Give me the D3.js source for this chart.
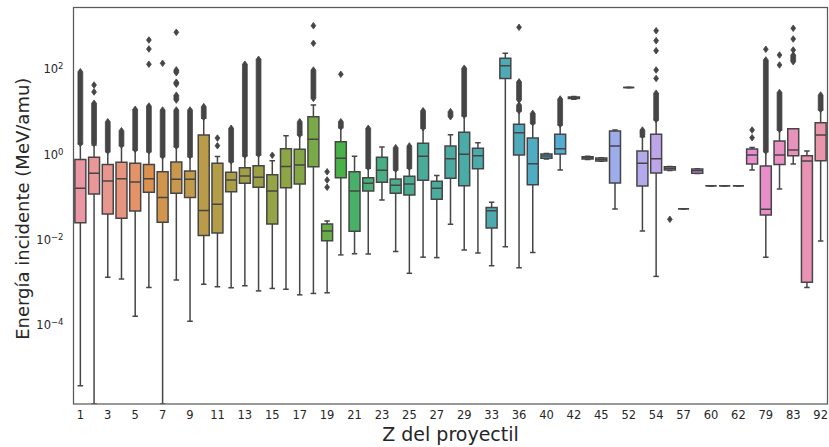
<!DOCTYPE html>
<html>
<head>
<meta charset="utf-8">
<script src="https://cdn.jsdelivr.net/npm/d3@7"></script>
<style>
  html, body { margin: 0; padding: 0; background: #fff; }
  svg { display: block; font-family: "DejaVu Sans", sans-serif; }
</style>
</head>
<body>
<svg id="chart" width="829" height="447"></svg>
<script>
// Projectile atomic number (category) and box statistics of incident energy (MeV/amu)
const zLabels = ["1","2","3","4","5","6","7","8","9","10","11","12","13","14","15","16","17","18","19","20",
  "21","22","23","24","25","26","27","28","29","31","33","35","36","38","40","41","42","44","45","47",
  "52","53","54","56","57","58","60","61","62","74","79","82","83","90","92"];

// lower whisker (0 = reaches zero energy), Q1, median, Q3, upper whisker
const whiskLo = [3.8e-6,0,1.31e-3,1.2e-3,1.6e-4,7.6e-4,0,1.13e-3,1.22e-4,9.0e-4,
  7.9e-4,7.5e-4,8.3e-4,6.3e-4,7.2e-4,6.9e-4,5.1e-4,5.5e-4,5.7e-4,4.4e-3,
  4.7e-3,4.6e-3,0.085,5.3e-3,1.63e-3,3.9e-3,3.8e-3,0.0229,5.7e-3,4.9e-3,
  2.45e-3,6.8e-3,2.2e-3,5.0e-3,0.78,0.43,19.4,0.76,0.686,0.052,
  37,0.0159,1.38e-3,0.42,0.053,0.355,0.184,0.184,0.184,0.43,
  3.9e-3,0.154,0.59,7.6e-4,9.3e-3];
const q1 = [0.025,0.117,0.040,0.0316,0.047,0.129,0.0255,0.122,0.098,0.0126,
  0.0143,0.133,0.209,0.169,0.0233,0.165,0.201,0.51,0.0094,0.283,
  0.0157,0.138,0.221,0.122,0.111,0.246,0.088,0.274,0.184,0.46,
  0.0187,60,0.96,0.194,0.806,1.02,20.3,0.776,0.70,0.212,
  37,0.181,0.365,0.43,0.053,0.359,0.184,0.184,0.184,0.593,
  0.0378,0.58,0.93,1.0e-3,0.71];
const median = [0.16,0.36,0.237,0.268,0.224,0.268,0.098,0.26,0.26,0.048,
  0.0673,0.25,0.31,0.289,0.138,0.52,0.56,2.25,0.0159,0.806,
  0.138,0.209,0.422,0.188,0.201,0.90,0.16,0.79,1.0,0.93,
  0.0477,119,3.21,0.60,0.91,1.35,21,0.83,0.76,1.57,
  37,0.615,0.79,0.47,0.053,0.413,0.184,0.184,0.184,0.96,
  0.0514,0.96,1.26,0.70,2.83];
const q3 = [0.76,0.85,0.58,0.65,0.615,0.58,0.39,0.66,0.406,2.83,
  0.615,0.379,0.485,0.54,0.33,1.35,1.31,7.6,0.0233,1.97,
  0.39,0.283,0.85,0.264,0.305,1.81,0.233,1.57,3.28,1.38,
  0.057,178,5.05,2.41,1.02,2.94,21.9,0.88,0.82,3.52,
  37,1.19,2.94,0.51,0.053,0.45,0.184,0.184,0.184,1.33,
  0.532,2.05,3.98,0.93,5.5];
const whiskHi = [1.74,1.65,1.15,1.59,1.26,1.15,0.88,1.51,0.88,6.98,
  0.89,0.67,0.91,0.96,0.71,2.73,2.83,14.3,0.0273,4.2,
  0.90,0.47,1.48,0.43,0.47,4.07,0.32,2.88,7.9,1.87,
  0.075,233,10.3,5.3,1.04,4.86,22.5,0.90,0.83,3.71,
  37,2.58,6.37,0.52,0.053,0.46,0.184,0.184,0.184,1.45,
  1.15,3.71,3.98,1.19,10.9];

// Outliers: dense runs of overlapping points [from, to] and isolated points
const flierRuns = [
  [[1.8,86]],[[1.8,15.7]],[[1.2,5.8]],[[1.65,3.57]],[[1.3,11.3]],[[1.2,13.5]],[[0.92,10.9]],
  [[1.55,10.9],[18.7,24.3],[44,49],[82,95]],[[0.92,10.9]],[[7.4,13.1]],
  [],[[0.7,4.07]],[[0.95,129]],[[1.0,168]],[],[],[[2.9,5.8]],[[20.5,94]],[],[[4.4,5.8]],
  [],[[0.5,4.07]],[],[[0.45,1.43]],[[0.5,1.57]],[[4.2,10.5]],[],[[7.6,10]],[[8.2,104]],[],
  [],[],[[10.5,14.3],[18.7,50]],[[5.5,9.1]],[],[[5.0,19.8]],[],[],[],[],
  [],[[2.8,3.7]],[[6.5,27]],[],[],[],[],[],[],[],
  [[1.2,162]],[[3.8,28]],[[148,212]],[],[[11.2,24.5]]
];
const flierPoints = [
  [],[29,42],[],[],[],[129,294,477],[136],[723],[],[],
  [1.59,2.4],[],[],[],[0.95],[],[],[399,1030],[0.169,0.25,0.39],[75],
  [],[],[],[],[],[],[],[],[],[],
  [],[],[947],[],[],[],[],[],[],[],
  [],[],[60,94.6,268,460,788],[0.030],[],[],[],[],[],[2.45,3.71],
  [289],[124,212],[278,504,897],[],[]
];

const yTicks = [1e-4, 1e-2, 1, 1e2];
const xTitle = "Z del proyectil";
const yTitle = "Energía incidente (MeV/amu)";

// ---- HUSL colour conversion (as used by the husl palette) ----
const M = [[3.2406,-1.5372,-0.4986],[-0.9689,1.8758,0.0415],[0.0557,-0.2040,1.0570]];
const refU = 0.19784, refV = 0.46834, labE = 0.008856, labK = 903.3;
function maxChroma(L, H) {
  const hr = H / 360 * 2 * Math.PI, sinH = Math.sin(hr), cosH = Math.cos(hr);
  const sub1 = Math.pow(L + 16, 3) / 1560896;
  const sub2 = sub1 > labE ? sub1 : L / labK;
  let result = Infinity;
  for (const [m1, m2, m3] of M) {
    const top = (0.99915 * m1 + 1.05122 * m2 + 1.14460 * m3) * sub2;
    const rb = 0.86330 * m3 - 0.17266 * m2;
    const lb = 0.12949 * m3 - 0.38848 * m1;
    const bottom = (rb * sinH + lb * cosH) * sub2;
    for (const t of [0, 1]) {
      const C = L * (top - 1.05122 * t) / (bottom + 0.17266 * sinH * t);
      if (C > 0 && C < result) result = C;
    }
  }
  return result;
}
function huslToRgb(H, S, L) {
  const C = maxChroma(L, H) / 100 * S;
  const hr = H / 360 * 2 * Math.PI;
  const U = Math.cos(hr) * C, V = Math.sin(hr) * C;
  const t = (L + 16) / 116;
  const varY = Math.pow(t, 3) > labE ? Math.pow(t, 3) : (116 * t - 16) / labK;
  const varU = U / (13 * L) + refU, varV = V / (13 * L) + refV;
  const Y = varY;
  const X = 0 - (9 * Y * varU) / ((varU - 4) * varV - varU * varV);
  const Z = (9 * Y - 15 * varV * Y - varV * X) / (3 * varV);
  return M.map(r => {
    const c = r[0] * X + r[1] * Y + r[2] * Z;
    const v = c <= 0.0031308 ? 12.92 * c : 1.055 * Math.pow(c, 1 / 2.4) - 0.055;
    return Math.max(0, Math.min(1, v));
  });
}
function huslPalette(n, h = 0.01, s = 0.9, l = 0.7) {
  return d3.range(n).map(i => {
    const hue = ((i / n + h) % 1) * 359;
    return huslToRgb(hue, s * 99, l * 99);
  });
}

const n = zLabels.length;
const rawColors = huslPalette(n);
const boxColors = rawColors.map(([r, g, b]) => {
  const c = d3.hsl(d3.rgb(r * 255, g * 255, b * 255));
  c.s *= 0.75;
  return c.formatHex();
});
const minLight = d3.min(rawColors, ([r, g, b]) => d3.hsl(d3.rgb(r * 255, g * 255, b * 255)).l);
const lum = Math.round(minLight * 0.6 * 255);
const gray = d3.rgb(lum, lum, lum).formatHex();

// ---- layout ----
const svg = d3.select("#chart");
const margin = { left: 73.5, right: 1.5, top: 7.5, bottom: 43 };
const W = 829, H = 447;
const plotW = W - margin.left - margin.right;
const plotH = H - margin.top - margin.bottom;

const x = d3.scaleBand().domain(zLabels).range([0, plotW]).paddingInner(0).paddingOuter(0);
const y = d3.scaleLog().domain([Math.pow(10, -5.85), Math.pow(10, 3.44)]).range([plotH, 0]);
const yPos = v => (v <= 0 ? plotH : Math.max(0, Math.min(plotH, y(v))));

const g = svg.append("g").attr("transform", `translate(${margin.left},${margin.top})`);
const clip = svg.append("defs").append("clipPath").attr("id", "plotclip");
clip.append("rect").attr("width", plotW).attr("height", plotH);

const marks = g.append("g").attr("clip-path", "url(#plotclip)");
const bw = x.bandwidth() * 0.8;
const cw = bw * 0.5;
const lw = 1.5;
const dw = 2.4, dh = 3.3;

zLabels.forEach((z, i) => {
  const cx = x(z) + x.bandwidth() / 2;
  const gg = marks.append("g").attr("class", "box");
  const yq1 = yPos(q1[i]), yq3 = yPos(q3[i]), ymed = yPos(median[i]);
  const ylo = yPos(whiskLo[i]), yhi = yPos(whiskHi[i]);

  // whiskers
  gg.append("line").attr("x1", cx).attr("x2", cx).attr("y1", yq1).attr("y2", ylo)
    .attr("stroke", gray).attr("stroke-width", lw);
  gg.append("line").attr("x1", cx).attr("x2", cx).attr("y1", yq3).attr("y2", yhi)
    .attr("stroke", gray).attr("stroke-width", lw);
  // caps
  [ylo, yhi].forEach(yy => {
    gg.append("line").attr("x1", cx - cw / 2).attr("x2", cx + cw / 2).attr("y1", yy).attr("y2", yy)
      .attr("stroke", gray).attr("stroke-width", lw);
  });
  // box
  gg.append("path")
    .attr("d", `M${cx - bw / 2},${yq3}H${cx + bw / 2}V${yq1}H${cx - bw / 2}Z`)
    .attr("fill", boxColors[i]).attr("stroke", gray).attr("stroke-width", lw)
    .attr("stroke-linejoin", "miter");
  // median
  gg.append("line").attr("x1", cx - bw / 2).attr("x2", cx + bw / 2).attr("y1", ymed).attr("y2", ymed)
    .attr("stroke", gray).attr("stroke-width", lw);

  // dense outlier runs
  flierRuns[i].forEach(([a, b]) => {
    const yb = yPos(a), yt = yPos(b);
    gg.append("path")
      .attr("d", `M${cx},${yt - dh}L${cx + dw},${yt}L${cx + dw},${yb}L${cx},${yb + dh}L${cx - dw},${yb}L${cx - dw},${yt}Z`)
      .attr("fill", gray).attr("stroke", gray).attr("stroke-width", 0.8);
  });
  // isolated outliers
  flierPoints[i].forEach(v => {
    const yy = yPos(v);
    gg.append("path")
      .attr("d", `M${cx},${yy - dh}L${cx + dw},${yy}L${cx},${yy + dh}L${cx - dw},${yy}Z`)
      .attr("fill", gray).attr("stroke", gray).attr("stroke-width", 0.8);
  });
});

// frame
g.append("rect").attr("width", plotW).attr("height", plotH)
  .attr("fill", "none").attr("stroke", "#5a5a5a").attr("stroke-width", 1.25);

// x tick labels: every other category
const xAxis = d3.axisBottom(x)
  .tickValues(zLabels.filter((d, i) => i % 2 === 0))
  .tickSize(0).tickPadding(7);
const xg = g.append("g").attr("transform", `translate(0,${plotH})`).call(xAxis);
xg.select(".domain").remove();
xg.selectAll("text").attr("font-size", 11.5).attr("fill", "#262626")
  .attr("font-family", "DejaVu Sans, sans-serif");

// y tick labels with superscript exponents
const yAxis = d3.axisLeft(y).tickValues(yTicks).tickSize(0).tickPadding(10).tickFormat(() => "");
const yg = g.append("g").call(yAxis);
yg.select(".domain").remove();
yg.selectAll(".tick text").each(function(d) {
  const t = d3.select(this);
  const e = Math.round(Math.log10(d));
  t.attr("font-size", 11.5).attr("fill", "#262626").attr("font-family", "DejaVu Sans, sans-serif");
  t.append("tspan").text("10");
  t.append("tspan").attr("dy", "-0.45em").attr("font-size", 8.5)
    .text(e < 0 ? "\u2212" + Math.abs(e) : String(e));
});

// axis titles
svg.append("text").attr("x", margin.left + plotW / 2).attr("y", 440.5)
  .attr("text-anchor", "middle").attr("font-size", 19).attr("fill", "#262626")
  .text(xTitle);
svg.append("text").attr("transform", `translate(29,${margin.top + plotH / 2 + 3}) rotate(-90)`)
  .attr("text-anchor", "middle").attr("font-size", 18).attr("fill", "#262626")
  .text(yTitle);
</script>
</body>
</html>
